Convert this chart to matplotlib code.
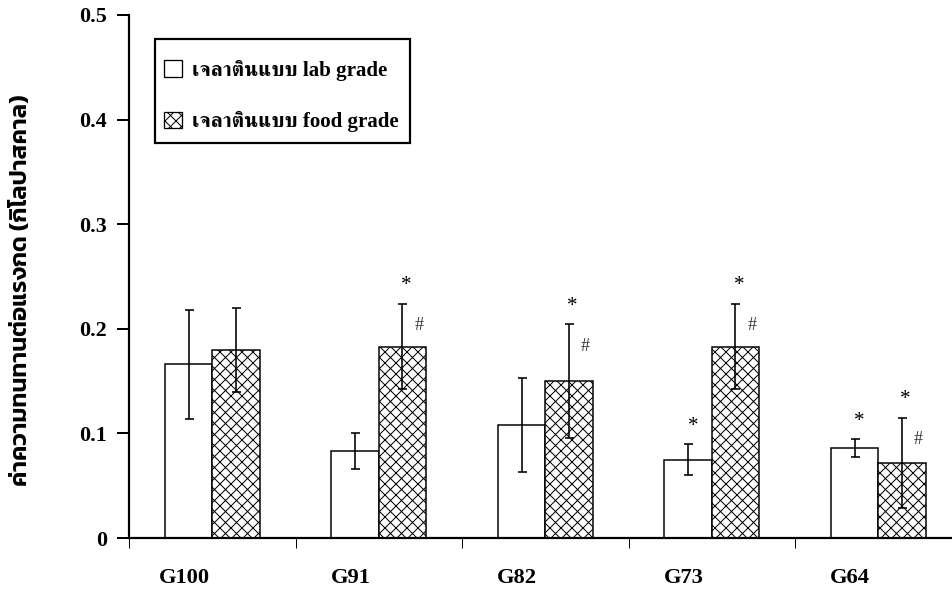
import matplotlib
matplotlib.use('Agg')
import matplotlib.pyplot as plt
from matplotlib import font_manager
from matplotlib.patches import Patch, Rectangle
import numpy as np

# ---------------- data ----------------
categories = ['G100', 'G91', 'G82', 'G73', 'G64']
lab_mean = [0.166, 0.083, 0.108, 0.075, 0.086]
lab_err = [0.052, 0.017, 0.045, 0.015, 0.0085]
food_mean = [0.180, 0.183, 0.150, 0.183, 0.072]
food_err = [0.040, 0.041, 0.0545, 0.041, 0.043]
lab_star = [False, False, False, True, True]
food_star = [False, True, True, True, True]
food_hash = [False, True, True, True, True]
yticks = [0, 0.1, 0.2, 0.3, 0.4, 0.5]
ytick_labels = ['0', '0.1', '0.2', '0.3', '0.4', '0.5']
legend_labels = ['เจลาตินแบบ lab grade', 'เจลาตินแบบ food grade']
ylabel = 'ค่าความทนทานต่อแรงกด (กิโลปาสคาล)'

# ---------------- fonts ----------------
installed = {f.name for f in font_manager.fontManager.ttflist}
def pick(prefs):
    for p in prefs:
        if p in installed:
            return p
    return 'DejaVu Sans'

serif = 'Liberation Serif'
thai_serif = pick(['FreeSerif', 'Taviraj', 'Trirong', 'Sarabun'])
thai_sans = pick(['Kanit', 'Prompt', 'Noto Sans Thai', 'Sarabun'])
leg_fam = [serif, thai_serif, 'DejaVu Sans']
ylab_fam = [thai_sans, serif, 'DejaVu Sans']

DPI = 66
def P(px):
    return px * 72.0 / DPI

plt.rcParams['hatch.linewidth'] = P(1.0)

W, H = 952, 612
fig = plt.figure(figsize=(W / DPI, H / DPI), dpi=DPI)
L, R, T, B = 129, 952, 15, 538
ax = fig.add_axes([L / W, (H - B) / H, (R - L) / W, (B - T) / H])

x = np.arange(len(categories))
bw = 0.285
ax.bar(x - bw / 2, lab_mean, bw, facecolor='white', edgecolor='black',
       linewidth=P(1.5), zorder=2)
ax.bar(x + bw / 2, food_mean, bw, facecolor='white', edgecolor='black',
       linewidth=P(1.5), hatch='xx', zorder=2)
ax.errorbar(x - bw / 2, lab_mean, yerr=lab_err, fmt='none', ecolor='black',
            elinewidth=P(1.6), capsize=P(4.5), capthick=P(1.6), zorder=3)
ax.errorbar(x + bw / 2, food_mean, yerr=food_err, fmt='none', ecolor='black',
            elinewidth=P(1.6), capsize=P(4.5), capthick=P(1.6), zorder=3)

for i in range(len(categories)):
    if lab_star[i]:
        ax.text(x[i] - bw / 2 + 0.03, lab_mean[i] + lab_err[i] + 0.017, '*',
                ha='center', va='center', fontsize=P(21), family=serif)
    if food_star[i]:
        ax.text(x[i] + bw / 2 + 0.02, food_mean[i] + food_err[i] + 0.017, '*',
                ha='center', va='center', fontsize=P(21), family=serif)
    if food_hash[i]:
        ax.text(x[i] + bw / 2 + 0.10, food_mean[i] + food_err[i] - 0.021, '#',
                ha='center', va='center', fontsize=P(18), family=serif,
                color='#333333')

ax.set_xlim(-0.5, -0.5 + (R - L) / 166.5)
ax.set_ylim(0, 0.5)
for s in ['top', 'right']:
    ax.spines[s].set_visible(False)
for s in ['left', 'bottom']:
    ax.spines[s].set_linewidth(P(2.2))

ax.set_xticks([-0.5] + list(x[:-1] + 0.5))
ax.set_xticklabels([])
ax.tick_params(axis='x', direction='out', length=P(10), width=P(1.0))
ax.set_yticks(yticks)
ax.set_yticklabels(ytick_labels, fontsize=P(22), fontweight='bold', family=serif)
ax.tick_params(axis='y', direction='out', length=P(12), width=P(2.0), pad=P(10))

for i, c in enumerate(categories):
    ax.text(x[i] - 0.17, -0.0765, c, transform=ax.get_xaxis_transform(),
            ha='center', va='center', fontsize=P(22.5), fontweight='bold', family=serif)

fig.text(21 / W, 1 - 290 / H, ylabel, rotation=90, ha='center', va='center',
         fontsize=P(24), fontweight=600, family=ylab_fam)

# legend (entries without frame) + frame box drawn separately
handles = [Patch(facecolor='white', edgecolor='black', linewidth=P(1.3)),
           Patch(facecolor='white', edgecolor='black', linewidth=P(1.3), hatch='xx')]
leg = ax.legend(handles, legend_labels, loc='center left',
                bbox_to_anchor=(164 / W, 1 - 96 / H), bbox_transform=fig.transFigure,
                prop={'family': leg_fam, 'weight': 'bold', 'size': P(21)},
                frameon=False, borderpad=0, labelspacing=1.44,
                handlelength=0.88, handleheight=0.82,
                handletextpad=0.45, borderaxespad=0)
fig.patches.append(Rectangle((155 / W, 1 - 143 / H), (410 - 155) / W, (143 - 39) / H,
                             transform=fig.transFigure, facecolor='none',
                             edgecolor='black', linewidth=P(2.2), zorder=5))

fig.savefig('out.png', dpi=DPI)
